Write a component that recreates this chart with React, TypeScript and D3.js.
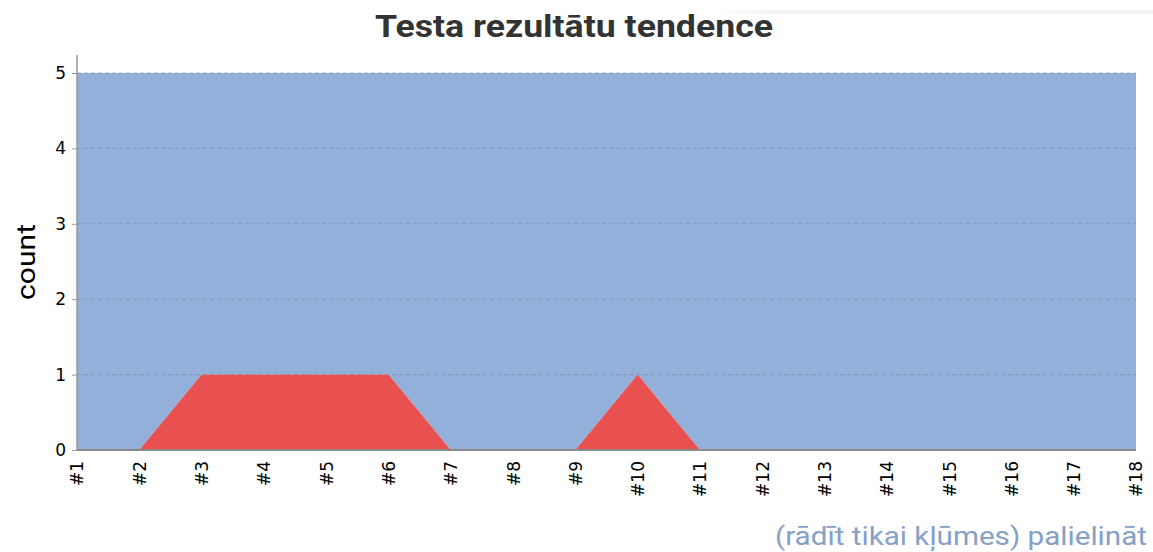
import * as d3 from "d3";
import { useEffect, useRef } from "react";

// test runs #1..#18
const runs = ["#1", "#2", "#3", "#4", "#5", "#6", "#7", "#8", "#9", "#10", "#11", "#12", "#13", "#14", "#15", "#16", "#17", "#18"];
const failed = [0, 0, 1, 1, 1, 1, 0, 0, 0, 1, 0, 0, 0, 0, 0, 0, 0, 0];
const passed = [5, 5, 4, 4, 4, 4, 5, 5, 5, 4, 5, 5, 5, 5, 5, 5, 5, 5];
const yTicks = [0, 1, 2, 3, 4, 5];

const W = 1153;
const H = 552;

const App = () => {
  const svgRef = useRef<SVGSVGElement>(null);

  useEffect(() => {
    const svg = d3.select(svgRef.current);
    svg.selectAll("*").remove();

    const left = 77, right = 1136, top = 73, bottom = 450;
    const x = d3.scaleLinear().domain([0, runs.length - 1]).range([left, right]);
    const y = d3.scaleLinear().domain([0, 5]).range([bottom, top]);

    // faint card shadow at the top right
    const grad = svg.append("defs").append("linearGradient").attr("id", "sh").attr("x1", 0).attr("x2", 1);
    grad.append("stop").attr("offset", 0).attr("stop-color", "#000").attr("stop-opacity", 0);
    grad.append("stop").attr("offset", 0.15).attr("stop-color", "#000").attr("stop-opacity", 0.05);
    svg.append("rect").attr("x", 715).attr("y", 10).attr("width", W - 715).attr("height", 4).attr("fill", "url(#sh)");

    const stacked = runs.map((_, i) => ({ i, f: failed[i], t: failed[i] + passed[i] }));

    // passed stacked on top of failed
    const passArea = d3.area<any>().x(d => x(d.i)).y0(d => y(d.f)).y1(d => y(d.t));
    svg.append("path").datum(stacked).attr("d", passArea).attr("fill", "#92b0da");

    const failArea = d3.area<any>().x(d => x(d.i)).y0(y(0)).y1(d => y(d.f));
    svg.append("path").datum(stacked).attr("d", failArea).attr("fill", "#e85150");

    // dashed grid lines
    svg.append("g").selectAll("line").data(yTicks.filter(t => t > 0)).join("line")
      .attr("x1", left).attr("x2", right)
      .attr("y1", d => y(d)).attr("y2", d => y(d))
      .attr("stroke", "#6f86a8").attr("stroke-opacity", 0.6)
      .attr("stroke-dasharray", "4,3");

    // y axis
    const yAxis = d3.axisLeft(y).tickValues(yTicks).tickSize(5).tickPadding(6).tickFormat(d3.format("d"));
    const gy = svg.append("g").attr("transform", `translate(${left},0)`).call(yAxis);
    gy.select(".domain").remove();
    gy.selectAll(".tick line").attr("stroke", "#999");
    gy.selectAll("text").attr("font-family", "DejaVu Sans").attr("font-size", 17).attr("fill", "#000");
    svg.append("line").attr("x1", left).attr("x2", left).attr("y1", 55).attr("y2", bottom)
      .attr("stroke", "#999").attr("stroke-width", 1.5);

    // x axis
    const xAxis = d3.axisBottom(x).tickValues(d3.range(runs.length)).tickSize(0).tickFormat((d: any) => runs[d]);
    const gx = svg.append("g").attr("transform", `translate(0,${bottom})`).call(xAxis);
    gx.select(".domain").remove();
    gx.selectAll("text")
      .attr("font-family", "DejaVu Sans").attr("font-size", 17).attr("fill", "#000")
      .attr("transform", "rotate(-90)")
      .attr("text-anchor", "end")
      .attr("x", -11).attr("y", 0).attr("dy", "0.35em");
    svg.append("line").attr("x1", left).attr("x2", right).attr("y1", bottom).attr("y2", bottom)
      .attr("stroke", "#8a8a8a").attr("stroke-width", 2);

    // title and labels
    svg.append("text").attr("x", 375).attr("y", 37)
      .attr("font-family", "Roboto").attr("font-weight", "bold").attr("font-size", 32).attr("fill", "#333")
      .attr("textLength", 398).attr("lengthAdjust", "spacingAndGlyphs")
      .text("Testa rezultātu tendence");
    svg.append("text").attr("transform", "translate(35,262) rotate(-90)").attr("text-anchor", "middle")
      .attr("font-family", "Roboto").attr("font-size", 25).attr("fill", "#000")
      .attr("textLength", 76).attr("lengthAdjust", "spacingAndGlyphs").text("count");
    svg.append("text").attr("x", 775).attr("y", 545)
      .attr("font-family", "Roboto").attr("font-size", 26).attr("fill", "#86a0c6")
      .attr("textLength", 372).attr("lengthAdjust", "spacingAndGlyphs")
      .text("(rādīt tikai kļūmes) palielināt");
  }, []);

  return (
    <svg ref={svgRef} width={W} height={H} style={{ position: "absolute", left: 0, top: 0, background: "#fff" }} />
  );
};

export default App;
